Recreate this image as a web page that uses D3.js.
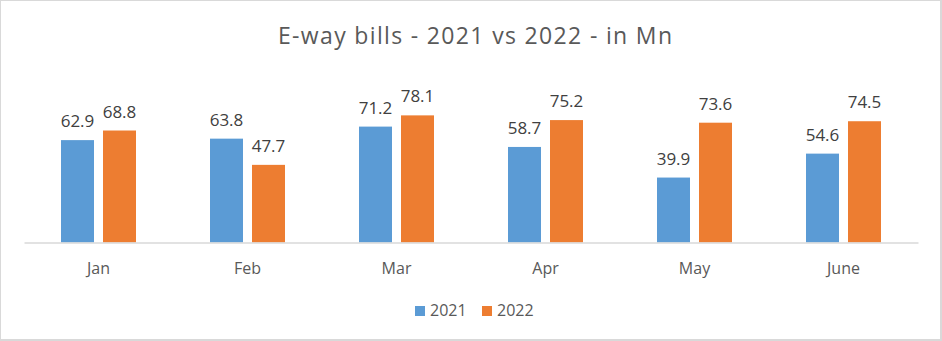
<!DOCTYPE html>
<html>
<head>
<meta charset="utf-8">
<script src="https://cdn.jsdelivr.net/npm/d3@7"></script>
<style>
  html, body { margin: 0; padding: 0; background: #fff; }
  svg { display: block; font-family: "Open Sans", sans-serif; }
</style>
</head>
<body>
<svg id="canvas" width="942" height="341"></svg>
<script>
let months = ["Jan", "Feb", "Mar", "Apr", "May", "June"];
let years = ["2021", "2022"];
let values2021 = [62.9, 63.8, 71.2, 58.7, 39.9, 54.6];
let values2022 = [68.8, 47.7, 78.1, 75.2, 73.6, 74.5];

const colors = { "2021": "#5B9BD5", "2022": "#ED7D31" };
const textColor = "#595959";
const labelColor = "#404040";

let canvas = d3.select("#canvas");
let width = +canvas.attr("width");
let height = +canvas.attr("height");

// chart border
canvas.append("rect")
  .attr("x", 0.5).attr("y", 0.5)
  .attr("width", width - 2).attr("height", height - 2)
  .attr("fill", "#fff")
  .attr("stroke", "#D9D9D9")
  .attr("stroke-width", 1);
canvas.append("rect").attr("x", width - 2).attr("y", 0).attr("width", 2).attr("height", height).attr("fill", "#D9D9D9");
canvas.append("rect").attr("x", 0).attr("y", height - 2).attr("width", width).attr("height", 2).attr("fill", "#D9D9D9");

// title
canvas.append("text")
  .attr("x", 475).attr("y", 44)
  .attr("text-anchor", "middle")
  .attr("fill", textColor)
  .attr("textLength", 394)
  .attr("lengthAdjust", "spacing")
  .style("font-size", "23px")
  .text("E-way bills - 2021 vs 2022 - in Mn");

const plotLeft = 24, plotRight = 918, baseY = 242.5;

let x = d3.scaleBand().domain(months).range([plotLeft, plotRight]).paddingInner(0).paddingOuter(0);
let y = d3.scaleLinear().domain([0, 90]).range([baseY, baseY - 146.5]);

// two bars per month, 33px wide with a 9px gap
const barW = 33, gap = 9;
let sub = d3.scaleOrdinal().domain(years).range([-(gap / 2 + barW), gap / 2]);

let rows = [];
months.forEach((m, i) => {
  rows.push({ month: m, year: "2021", value: values2021[i] });
  rows.push({ month: m, year: "2022", value: values2022[i] });
});

let g = canvas.append("g");

g.selectAll("rect.bar")
  .data(rows)
  .enter()
  .append("rect")
  .attr("class", "bar")
  .attr("x", d => x(d.month) + x.bandwidth() / 2 + sub(d.year))
  .attr("y", d => y(d.value))
  .attr("width", barW)
  .attr("height", d => y(0) - y(d.value))
  .attr("fill", d => colors[d.year]);

g.selectAll("text.val")
  .data(rows)
  .enter()
  .append("text")
  .attr("class", "val")
  .attr("x", d => x(d.month) + x.bandwidth() / 2 + sub(d.year) + barW / 2)
  .attr("y", d => y(d.value) - 13)
  .attr("text-anchor", "middle")
  .attr("fill", labelColor)
  .style("font-size", "17px")
  .text(d => d.value.toFixed(1));

// category axis
let axis = canvas.append("g")
  .attr("transform", `translate(0,${baseY})`)
  .call(d3.axisBottom(x).tickSize(0).tickPadding(0));
axis.select(".domain").attr("stroke", "#D9D9D9").attr("stroke-width", 1.5);
axis.selectAll("text")
  .attr("dy", null)
  .attr("y", 31)
  .attr("fill", textColor)
  .style("font-size", "16px")
  .style("font-family", "'Open Sans', sans-serif");

// legend
let legend = canvas.append("g");
const legendX = { "2021": 415, "2022": 482 };
years.forEach(yr => {
  legend.append("rect")
    .attr("x", legendX[yr]).attr("y", 306)
    .attr("width", 10).attr("height", 10)
    .attr("fill", colors[yr]);
  legend.append("text")
    .attr("x", legendX[yr] + 15).attr("y", 316)
    .attr("fill", textColor)
    .style("font-size", "16px")
    .text(yr);
});
</script>
</body>
</html>
